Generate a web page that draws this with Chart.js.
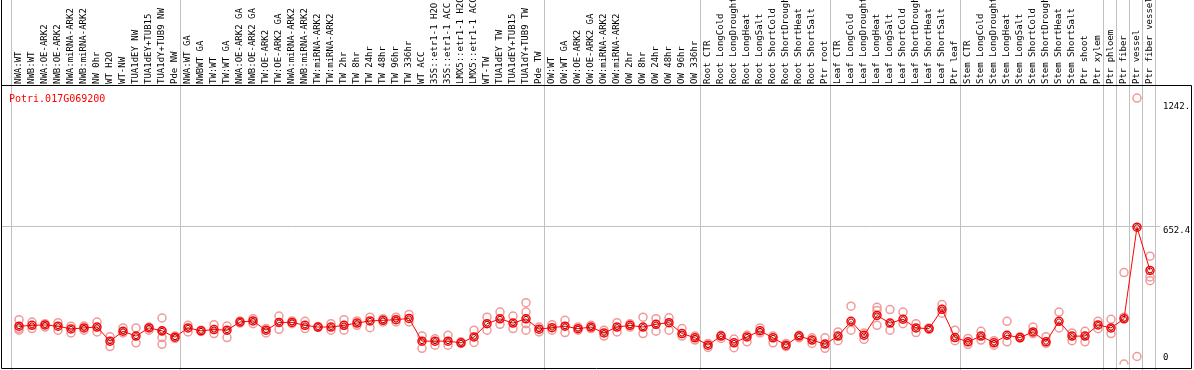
<!DOCTYPE html>
<html>
<head>
<meta charset="utf-8">
<script src="https://cdn.jsdelivr.net/npm/chart.js@4.4.1/dist/chart.umd.min.js"></script>
<style>
  html, body { margin: 0; padding: 0; background: #fff; }
</style>
</head>
<body>
<canvas id="exprChart" width="1194" height="370"></canvas>
<script>
const geneName = "Potri.017G069200";

// sample names, left to right
const samples = [
  "NWA:WT", "NWB:WT", "NWA:OE-ARK2", "NWB:OE-ARK2", "NWA:miRNA-ARK2", "NWB:miRNA-ARK2", "NW 0hr",
  "WT H2O", "WT-NW", "TUA1dEY NW", "TUA1dEY+TUB15", "TUA1dY+TUB9 NW", "Pde NW",
  "NWA:WT GA", "NWBWT GA", "TW:WT", "TW:WT GA", "NWA:OE-ARK2 GA", "NWB:OE-ARK2 GA", "TW:OE-ARK2",
  "TW:OE-ARK2 GA", "NWA:miRNA-ARK2", "NWB:miRNA-ARK2", "TW:miRNA-ARK2", "TW:miRNA-ARK2",
  "TW 2hr", "TW 8hr", "TW 24hr", "TW 48hr", "TW 96hr", "TW 336hr", "WT ACC",
  "35S::etr1-1 H2O", "35S::etr1-1 ACC", "LMX5::etr1-1 H2O", "LMX5::etr1-1 ACC",
  "WT-TW", "TUA1dEY TW", "TUA1dEY+TUB15", "TUA1dY+TUB9 TW", "Pde TW",
  "OW:WT", "OW:WT GA", "OW:OE-ARK2", "OW:OE-ARK2 GA", "OW:miRNA-ARK2", "OW:miRNA-ARK2",
  "OW 2hr", "OW 8hr", "OW 24hr", "OW 48hr", "OW 96hr", "OW 336hr",
  "Root CTR", "Root LongCold", "Root LongDrought", "Root LongHeat", "Root LongSalt",
  "Root ShortCold", "Root ShortDrought", "Root ShortHeat", "Root ShortSalt", "Ptr root",
  "Leaf CTR", "Leaf LongCold", "Leaf LongDrought", "Leaf LongHeat", "Leaf LongSalt",
  "Leaf ShortCold", "Leaf ShortDrought", "Leaf ShortHeat", "Leaf ShortSalt", "Ptr leaf",
  "Stem CTR", "Stem LongCold", "Stem LongDrought", "Stem LongHeat", "Stem LongSalt",
  "Stem ShortCold", "Stem ShortDrought", "Stem ShortHeat", "Stem ShortSalt", "Ptr shoot",
  "Ptr xylem", "Ptr phloem", "Ptr fiber", "Ptr vessel", "Ptr fiber vessel"
];

// mean expression per sample
const means = [
  182, 186, 188, 182, 169, 174, 178, 111, 158, 135, 174, 160, 130,
  174, 160, 166, 163, 202, 207, 163, 200, 200, 186, 178, 178, 186, 197, 207, 210, 213, 219,
  111, 111, 111, 103, 131, 194, 217, 197, 217, 168,
  175, 182, 170, 178, 150, 178, 186, 178, 191, 199, 147, 127,
  92, 135, 103, 131, 160, 127, 92, 135, 116, 97,
  135, 205, 139, 233, 197, 215, 174, 170, 262, 128,
  108, 135, 103, 139, 128, 155, 108, 205, 135, 135,
  188, 174, 217, 652.4, 447
];

// individual replicate values per sample
const reps = [
  [213, 171, 163], [202, 171], [194, 178], [199, 163], [182, 150], [183, 163], [202, 155],
  [132, 85], [174, 150], [174, 103], [178, 163], [221, 158, 128, 96], [135, 124],
  [186, 155], [163, 157], [189, 147], [183, 128], [207, 197], [218, 194], [171, 150],
  [230, 167], [207, 194], [205, 171], [181, 176], [194, 163], [213, 163], [207, 186],
  [225, 175], [218, 202], [225, 202], [238, 202], [136, 77], [122, 92], [139, 92],
  [108, 100], [163, 105], [225, 163], [249, 191], [230, 171], [294, 249, 194, 163], [178, 155],
  [189, 163], [210, 152], [178, 163], [186, 171], [163, 135], [199, 155],
  [194, 178], [225, 147], [218, 158], [222, 163], [171, 135], [135, 116],
  [100, 81], [139, 124], [121, 80], [139, 108], [174, 150], [135, 103],
  [100, 85], [139, 127], [127, 100], [127, 77],
  [155, 113], [277, 163], [150, 119], [272, 257, 186], [261, 163], [249, 194],
  [194, 152], [174, 167], [285, 244], [163, 113],
  [124, 96], [158, 116], [113, 92], [205, 108], [132, 125], [178, 147],
  [132, 100], [249, 174], [150, 113], [158, 108],
  [205, 170], [215, 147], [437, 225, 2], [1266, 38], [515, 416, 398]
];

// category edges where a grey separator is drawn
const groupBreaks = [0, 13, 41, 53, 63, 73, 84, 85, 86, 87, 88];

// value labels on the right side
const yLabelValues = [0, 652.4, 1242.8];
const yLabelText = ["0", "652.4", "1242.8"];
const yMax = 1323.6;

const maxReps = Math.max(...reps.map(r => r.length));
const repSets = [];
for (let k = 0; k < maxReps; k++) {
  repSets.push({
    label: 'rep ' + (k + 1),
    data: reps.map(r => (r[k] === undefined ? null : r[k])),
    showLine: false,
    pointRadius: 4,
    pointBorderWidth: 1.5,
    pointBorderColor: '#f09a9a',
    pointBackgroundColor: 'rgba(0,0,0,0)',
    order: 3
  });
}

const framePlugin = {
  id: 'frame',
  beforeDatasetsDraw(chart) {
    const { ctx, scales: { x, y } } = chart;
    ctx.save();
    ctx.lineWidth = 1;
    ctx.strokeStyle = '#c0c0c0';
    // group separators go through the label strip too
    groupBreaks.forEach(b => {
      const px = Math.floor(x.getPixelForValue(b - 0.5) - 1) + 0.5;
      ctx.beginPath();
      ctx.moveTo(px, 0);
      ctx.lineTo(px, 370);
      ctx.stroke();
    });
    // grid line at the mean maximum
    const gy = Math.round(y.getPixelForValue(652.4)) - 0.5;
    ctx.beginPath();
    ctx.moveTo(2, gy);
    ctx.lineTo(1160, gy);
    ctx.stroke();

    // black frame
    ctx.strokeStyle = '#000';
    ctx.beginPath();
    ctx.moveTo(1.5, 0);
    ctx.lineTo(1.5, 368.5);
    ctx.lineTo(1191.5, 368.5);
    ctx.lineTo(1191.5, 85.5);
    ctx.lineTo(1.5, 85.5);
    ctx.stroke();
    ctx.restore();
  },
  afterDraw(chart) {
    const { ctx, scales: { y } } = chart;
    ctx.save();
    ctx.fillStyle = '#ff0000';
    ctx.font = '10px "DejaVu Sans Mono"';
    ctx.textBaseline = 'alphabetic';
    ctx.fillText(geneName, 9, 101.5);

    ctx.beginPath();
    ctx.rect(0, 86, 1190, 284);
    ctx.clip();
    ctx.fillStyle = '#000';
    ctx.font = '9px "DejaVu Sans Mono"';
    ctx.textBaseline = 'top';
    yLabelValues.forEach((v, i) => {
      let py = y.getPixelForValue(v) - 1;
      if (v === 0) py -= 10;
      ctx.fillText(yLabelText[i], 1163, py);
    });
    ctx.restore();
  }
};

const ctx = document.getElementById('exprChart').getContext('2d');
const exprChart = new Chart(ctx, {
  type: 'line',
  data: {
    labels: samples,
    datasets: [
      {
        label: 'mean',
        data: means,
        borderColor: '#ff0000',
        borderWidth: 1,
        pointRadius: 4,
        pointBorderWidth: 1.5,
        pointBorderColor: '#ff0000',
        pointBackgroundColor: 'rgba(0,0,0,0)',
        tension: 0,
        order: 1
      },
      {
        label: 'mean inner',
        data: means,
        showLine: false,
        pointRadius: 2.5,
        pointBorderWidth: 1,
        pointBorderColor: '#a00000',
        pointBackgroundColor: 'rgba(0,0,0,0)',
        order: 0
      },
      ...repSets
    ]
  },
  options: {
    responsive: false,
    animation: false,
    layout: { padding: { left: 12.5, right: 37.5, top: 0, bottom: 2 } },
    plugins: { legend: { display: false }, tooltip: { enabled: false } },
    scales: {
      x: {
        type: 'category',
        position: 'top',
        offset: true,
        grid: { display: false, drawTicks: false },
        border: { display: false },
        ticks: {
          autoSkip: false,
          minRotation: 90,
          maxRotation: 90,
          padding: 2,
          color: '#000',
          font: { family: 'DejaVu Sans Mono', size: 9, lineHeight: 0.01 }
        },
        afterFit: (scale) => { scale.height = 86; }
      },
      y: {
        display: false,
        min: 0,
        max: yMax
      }
    }
  },
  plugins: [framePlugin]
});
</script>
</body>
</html>
